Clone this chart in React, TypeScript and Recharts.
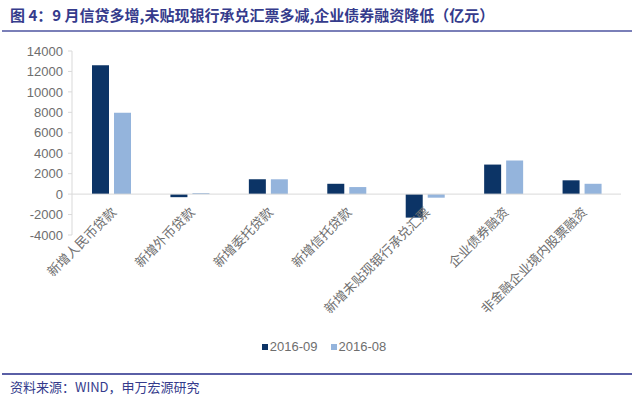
import React from 'react';
import { BarChart, Bar, XAxis, YAxis, Legend, ReferenceLine } from 'recharts';

const categories = [
  '新增人民币贷款',
  '新增外币贷款',
  '新增委托贷款',
  '新增信托贷款',
  '新增未贴现银行承兑汇票',
  '企业债券融资',
  '非金融企业境内股票融资',
];
const sep2016 = [12600, -300, 1460, 1010, -2300, 2890, 1350];
const aug2016 = [7950, 100, 1450, 690, -350, 3290, 1010];
const yTicks = [-4000, -2000, 0, 2000, 4000, 6000, 8000, 10000, 12000, 14000];

const data = categories.map((c, i) => ({ name: c, k1: sep2016[i], k2: aug2016[i] }));

const DARK = '#0c3466';
const LIGHT = '#94b4dc';
const GRID = '#d9d9d9';
const TEXT = '#6e6e6e';

const CatTick = (props: any) => {
  const { x, payload } = props;
  return (
    <g transform={`translate(${x + 6},${213}) rotate(-45)`}>
      <text x={0} y={0} textAnchor="end" fill={TEXT} fontSize={13} fontFamily="'Noto Sans CJK SC', sans-serif">
        {payload.value}
      </text>
    </g>
  );
};

const LegendContent = (props: any) => {
  const items = (props.payload || []).slice().sort((a: any, b: any) => String(a.dataKey).localeCompare(String(b.dataKey)));
  return (
    <div style={{ display: 'flex', justifyContent: 'center', gap: 13, fontSize: 13, fontFamily: "'Liberation Sans', Arial, sans-serif", color: TEXT, lineHeight: '16px', paddingLeft: 8 }}>
      {items.map((it: any) => (
        <span key={String(it.dataKey)} style={{ display: 'inline-flex', alignItems: 'center' }}>
          <span style={{ display: 'inline-block', width: 6, height: 6, background: it.color, marginRight: 2 }} />
          {it.value}
        </span>
      ))}
    </div>
  );
};

export default function App() {
  return (
    <div style={{ position: 'absolute', left: 0, top: 0, width: 640, height: 405, background: '#fff', fontFamily: "'Noto Sans CJK SC', sans-serif" }}>
      <div style={{ position: 'absolute', left: 10, top: 5, fontSize: 15, fontWeight: 'bold', color: '#353b8c', whiteSpace: 'nowrap', lineHeight: '20px' }}>
        图 4：9 月信贷多增,未贴现银行承兑汇票多减,企业债券融资降低（亿元）
      </div>
      <div style={{ position: 'absolute', left: 2, top: 30, width: 630, height: 1.5, background: '#7a7fb8' }} />
      <BarChart
        width={640}
        height={405}
        data={data}
        margin={{ top: 51, right: 19, left: 0, bottom: 124 }}
        barSize={17}
        barGap={5}
      >
        <XAxis dataKey="name" axisLine={false} tickLine={false} tick={<CatTick />} height={30} interval={0} />
        <YAxis
          domain={[-4000, 14000]}
          ticks={yTicks}
          interval={0}
          width={72}
          axisLine={{ stroke: GRID }}
          tickLine={{ stroke: GRID }}
          tickSize={4}
          tickMargin={5}
          tick={{ fill: TEXT, fontSize: 13, fontFamily: "'Liberation Sans', Arial, sans-serif" }}
        />
        <ReferenceLine y={0} stroke={GRID} strokeWidth={1} />
        <Bar dataKey="k1" name="2016-09" fill={DARK} isAnimationActive={false} />
        <Bar dataKey="k2" name="2016-08" fill={LIGHT} isAnimationActive={false} />
        <Legend
          content={<LegendContent />}
          wrapperStyle={{ position: 'absolute', top: 339, left: 0, width: 640 }}
        />
      </BarChart>
      <div style={{ position: 'absolute', left: 2, top: 373, width: 630, height: 1.5, background: '#5a5fa6' }} />
      <div style={{ position: 'absolute', left: 10, top: 378, fontSize: 13, color: '#353b8c', whiteSpace: 'nowrap', lineHeight: '18px' }}>
        资料来源：WIND，申万宏源研究
      </div>
    </div>
  );
}
